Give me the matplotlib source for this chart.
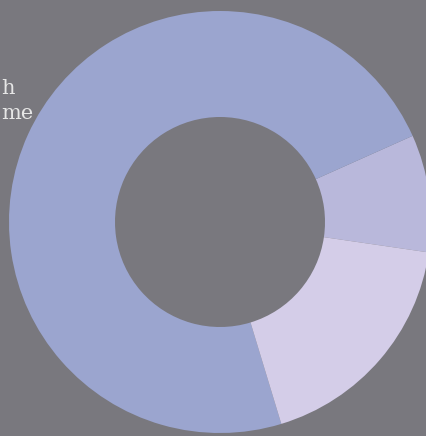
import matplotlib
matplotlib.use("Agg")
import matplotlib.pyplot as plt

# Data
labels = ["Segment B", "Segment A", "Segment C"]
values = [9, 73, 18]
colors = ["#b9b8db", "#9ba5cf", "#d4cde8"]
text_lines = ["h", "me"]

W, H = 427, 436
fig = plt.figure(figsize=(W / 100, H / 100), dpi=100)
fig.patch.set_facecolor("#79787e")
ax = fig.add_axes([0, 0, 1, 1])
ax.set_facecolor("#79787e")

cx, cy = 220, H - 222
R = 211
ax.pie(values, colors=colors, startangle=-8.3, counterclock=True,
       center=(cx, cy), radius=R, frame=True,
       wedgeprops=dict(width=R - 105, edgecolor="none", linewidth=0))
ax.set_xlim(0, W)
ax.set_ylim(0, H)
ax.set_aspect("equal")
ax.axis("off")

# Partially visible caption text at left edge
ax.text(15, H - 94, text_lines[0], ha="right", va="baseline",
        fontsize=15, color="#e6e6e6", family="DejaVu Serif")
ax.text(33, H - 119, text_lines[1], ha="right", va="baseline",
        fontsize=15, color="#e6e6e6", family="DejaVu Serif")

fig.savefig("out.png", dpi=100, facecolor=fig.get_facecolor())
